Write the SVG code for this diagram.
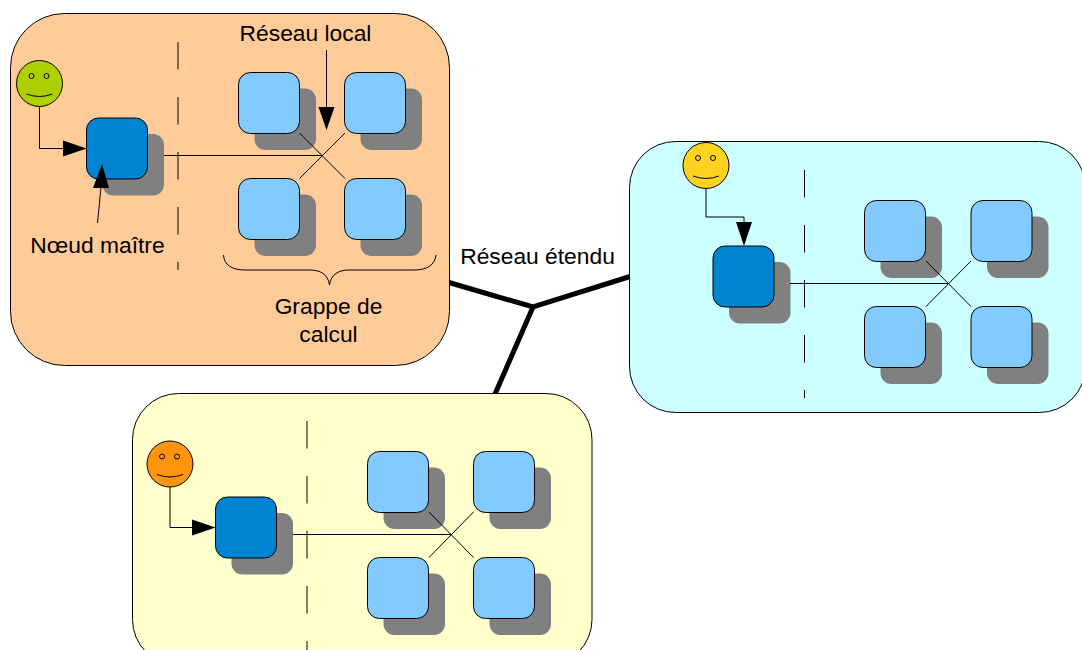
<svg xmlns="http://www.w3.org/2000/svg" width="1082" height="650" viewBox="0 0 1082 650">
<style>
text{font-family:"Liberation Sans",Arial,sans-serif;font-size:22.800px;fill:#000;text-anchor:middle}
.zone{stroke:#000;stroke-width:1}
.sh{fill:#808080}
.m{fill:#0084d1;stroke:#000;stroke-width:1}
.n{fill:#83caff;stroke:#000;stroke-width:1}
.l{fill:none;stroke:#000;stroke-width:1}
.w{fill:none;stroke:#000;stroke-width:5}
.d{fill:none;stroke:#000;stroke-width:1;stroke-dasharray:27.5 27.5}
.f{stroke:#000;stroke-width:1}
.s{fill:none;stroke:#000;stroke-width:1}
.h{fill:#000}
</style>
<defs>
<g id="mn"><rect class="sh" x="16" y="16" width="61.500" height="61.500" rx="11"/><rect class="m" width="61" height="61" rx="12"/></g>
<g id="cn"><rect class="sh" x="16" y="16" width="61.500" height="61.500" rx="11"/><rect class="n" width="61" height="61" rx="12"/></g>
<g id="fc"><ellipse class="s" cx="-8" cy="-7.500" rx="2.500" ry="2.500"/><ellipse class="s" cx="7" cy="-7.500" rx="2.500" ry="2.500"/><path class="s" d="M-13 10.500Q0 15.500 13 10.500"/></g>
</defs>
<g id="connectors">
<path class="w" d="M449 282.500L533 307L630 276.500M533 307L495 394"/>
</g>
<g id="zone-orange"><rect class="zone" fill="#ffcc99" x="10.500" y="13.500" width="439" height="352" rx="54"/></g>
<g id="zone-cyan"><rect class="zone" fill="#ccffff" x="629.500" y="141.500" width="456" height="271" rx="46"/></g>
<g id="zone-yellow"><rect class="zone" fill="#ffffcc" x="132.500" y="393.500" width="459.500" height="272" rx="46"/></g>
<g id="master-a"><use href="#mn" x="86.500" y="118"/></g>
<g id="node-a1"><use href="#cn" x="238.500" y="72.500"/></g>
<g id="node-a2"><use href="#cn" x="344.500" y="72.500"/></g>
<g id="node-a3"><use href="#cn" x="238.500" y="178.500"/></g>
<g id="node-a4"><use href="#cn" x="344.500" y="178.500"/></g>
<g id="user-a"><circle class="f" fill="#aecf00" cx="39.500" cy="83.500" r="23"/><use href="#fc" x="39.500" y="83.500"/></g>
<g id="master-b"><use href="#mn" x="713" y="246"/></g>
<g id="node-b1"><use href="#cn" x="864.500" y="200.500"/></g>
<g id="node-b2"><use href="#cn" x="971" y="200.500"/></g>
<g id="node-b3"><use href="#cn" x="864.500" y="306.500"/></g>
<g id="node-b4"><use href="#cn" x="971" y="306.500"/></g>
<g id="user-b"><circle class="f" fill="#ffd320" cx="706" cy="165.500" r="23"/><use href="#fc" x="706" y="165.500"/></g>
<g id="master-c"><use href="#mn" x="215.500" y="497"/></g>
<g id="node-c1"><use href="#cn" x="367.500" y="451.500"/></g>
<g id="node-c2"><use href="#cn" x="473.500" y="451.500"/></g>
<g id="node-c3"><use href="#cn" x="367.500" y="557.500"/></g>
<g id="node-c4"><use href="#cn" x="473.500" y="557.500"/></g>
<g id="user-c"><circle class="f" fill="#ff950e" cx="170" cy="464" r="23"/><use href="#fc" x="170" y="464"/></g>
<g id="wiring">
<path class="l" d="M164 155.500H322M299.500 133L345 178.500M345 133L299.500 178.500"/>
<path class="d" d="M178 42V270"/>
<path class="l" d="M39.500 106.500V148.500H64"/><path class="h" d="M86.500 148.500L63 140.500V156.500Z"/>
<path class="l" d="M97.500 223L101 187"/><path class="h" d="M102 164L93 188H109Z"/>
<path class="l" d="M326.500 50V108"/><path class="h" d="M326.500 130L318.500 107H334.500Z"/>
<path class="l" d="M223.500 255C224 265 232 270 245 270H310C320 270 328 274 329.500 285C331 274 339 270 349 270H414C427 270 435 265 436 255"/>
<path class="l" d="M790 283.500H948M926 261L971 306.500M971 261L926 306.500"/>
<path class="d" d="M804.500 170V398"/>
<path class="l" d="M706 188.500V217H744V224"/><path class="h" d="M744 246L736 222H752Z"/>
<path class="l" d="M293 534.500H451M429 512L473.500 557.500M473.500 512L429 557.500"/>
<path class="d" d="M307 421V650"/>
<path class="l" d="M170 487V527.500H194"/><path class="h" d="M215.500 527.500L192 519.500V535.500Z"/>
</g>
<g id="labels">
<text x="305.500" y="41">Réseau local</text>
<text x="97.500" y="253">Nœud maître</text>
<text x="328.500" y="314">Grappe de</text>
<text x="328.500" y="342">calcul</text>
<text x="537.500" y="264">Réseau étendu</text>
</g>
</svg>
